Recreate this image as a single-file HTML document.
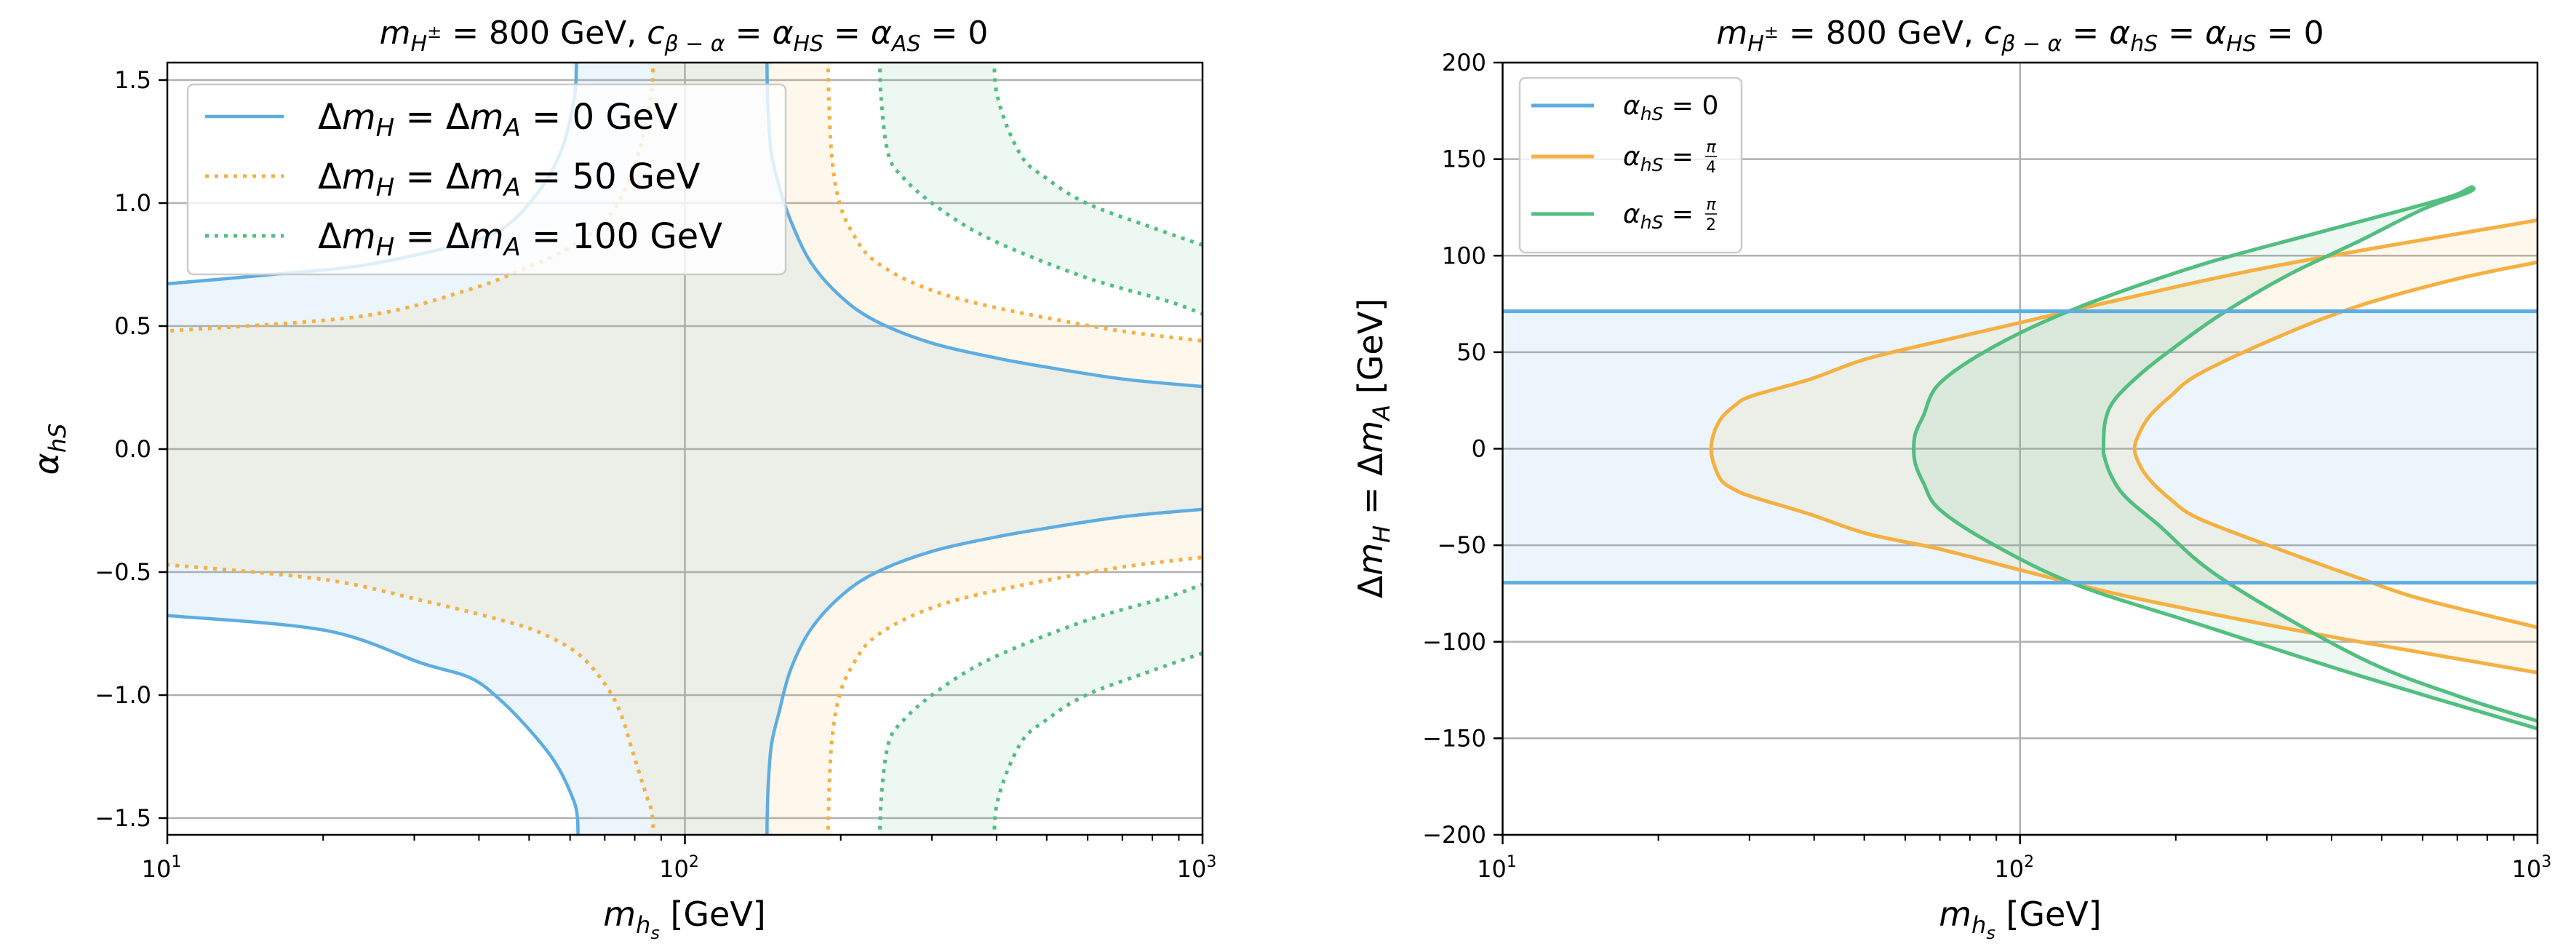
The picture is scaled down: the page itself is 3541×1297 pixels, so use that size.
<!DOCTYPE html>
<html><head><meta charset="utf-8">
<style>
html,body{margin:0;padding:0;background:#fff;}
svg{display:block;font-family:"DejaVu Sans","Liberation Sans",sans-serif;}
</style></head>
<body>
<svg id="s" width="3541" height="1297" viewBox="0 0 3541 1297" xmlns="http://www.w3.org/2000/svg">
<defs>
<clipPath id="cl"><rect x="230" y="86" width="1423" height="1061"/></clipPath>
<clipPath id="cr"><rect x="2065.5" y="86" width="1422.5" height="1061"/></clipPath>
</defs>
<rect width="3541" height="1297" fill="#fff"/>
<g id="L"></g>
<g id="R"></g>
<text x="940" y="60" font-size="44" text-anchor="middle"><tspan font-style="italic">m</tspan><tspan font-style="italic" font-size="30" dy="10">H</tspan><tspan font-size="24" dy="-18">±</tspan><tspan dy="8"> = 800 GeV,  </tspan><tspan font-style="italic">c</tspan><tspan font-style="italic" font-size="30" dy="10">β − α</tspan><tspan dy="-10"> = </tspan><tspan font-style="italic">α</tspan><tspan font-style="italic" font-size="30" dy="10">HS</tspan><tspan dy="-10"> = </tspan><tspan font-style="italic">α</tspan><tspan font-style="italic" font-size="30" dy="10">AS</tspan><tspan dy="-10"> = 0</tspan></text>
<text x="2777" y="60" font-size="44" text-anchor="middle"><tspan font-style="italic">m</tspan><tspan font-style="italic" font-size="30" dy="10">H</tspan><tspan font-size="24" dy="-18">±</tspan><tspan dy="8"> = 800 GeV, </tspan><tspan font-style="italic">c</tspan><tspan font-style="italic" font-size="30" dy="10">β − α</tspan><tspan dy="-10"> = </tspan><tspan font-style="italic">α</tspan><tspan font-style="italic" font-size="30" dy="10">hS</tspan><tspan dy="-10"> = </tspan><tspan font-style="italic">α</tspan><tspan font-style="italic" font-size="30" dy="10">HS</tspan><tspan dy="-10"> = 0</tspan></text>
<text x="941" y="1272" font-size="46" text-anchor="middle"><tspan font-style="italic">m</tspan><tspan font-style="italic" font-size="32" dy="10">h</tspan><tspan font-style="italic" font-size="24" dy="8">s</tspan><tspan dy="-18"> [GeV]</tspan></text>
<text x="2777" y="1272" font-size="46" text-anchor="middle"><tspan font-style="italic">m</tspan><tspan font-style="italic" font-size="32" dy="10">h</tspan><tspan font-style="italic" font-size="24" dy="8">s</tspan><tspan dy="-18"> [GeV]</tspan></text>
<text transform="translate(80,617) rotate(-90)" font-size="46" text-anchor="middle"><tspan font-style="italic">α</tspan><tspan font-style="italic" font-size="32" dy="10">hS</tspan></text>
<text transform="translate(1900,616) rotate(-90)" font-size="46" text-anchor="middle"><tspan>Δ</tspan><tspan font-style="italic">m</tspan><tspan font-style="italic" font-size="32" dy="10">H</tspan><tspan dy="-10"> = Δ</tspan><tspan font-style="italic">m</tspan><tspan font-style="italic" font-size="32" dy="10">A</tspan><tspan dy="-10"> [GeV]</tspan></text>
</svg>
<script>
const NS="http://www.w3.org/2000/svg";
function el(p,t,a,txt){const e=document.createElementNS(NS,t);for(const k in a)e.setAttribute(k,a[k]);if(txt!==undefined)e.textContent=txt;p.appendChild(e);return e;}
const BLUE="#5dade2",ORG="#f5b041",GRN="#52be80";
function mk(x0,dec,y0,sy){return {X:m=>x0+dec*(Math.log10(m)-1),Y:a=>y0-sy*a};}
function pth(T,pts){
  const P=pts.map(p=>[T.X(p[0]),T.Y(p[1])]);
  let d="M"+P[0][0].toFixed(1)+","+P[0][1].toFixed(1);
  for(let i=0;i<P.length-1;i++){
    const p0=P[Math.max(0,i-1)],p1=P[i],p2=P[i+1],p3=P[Math.min(P.length-1,i+2)];
    const c1=[p1[0]+(p2[0]-p0[0])/6,p1[1]+(p2[1]-p0[1])/6];
    const c2=[p2[0]-(p3[0]-p1[0])/6,p2[1]-(p3[1]-p1[1])/6];
    d+="C"+c1[0].toFixed(1)+","+c1[1].toFixed(1)+" "+c2[0].toFixed(1)+","+c2[1].toFixed(1)+" "+p2[0].toFixed(1)+","+p2[1].toFixed(1);
  }
  return d;
}
function rev(a){return a.slice().reverse();}
function neg(a){return a.map(p=>[p[0],-p[1]]);}

const gL=document.getElementById("L");
const TL=mk(230,711.5,617,338);
const lg=el(gL,"g",{});
for(const a of [-1.5,-1,-0.5,0,0.5,1,1.5]) el(lg,"line",{x1:230,x2:1653,y1:TL.Y(a),y2:TL.Y(a),stroke:"#b0b0b0","stroke-width":2.5});
el(lg,"line",{x1:TL.X(100),x2:TL.X(100),y1:86,y2:1147,stroke:"#b0b0b0","stroke-width":2.5});
const cg=el(gL,"g",{"clip-path":"url(#cl)"});
const BUL=[[9.5,0.67],[10,0.672],[16,0.71],[23.7,0.746],[35,0.82],[42,0.87],[46.6,0.93],[51,1.02],[55,1.12],[58.5,1.25],[60.8,1.4],[61.6,1.5],[61.8,1.7]];
const BLL=[[9.5,-0.675],[10,-0.677],[20.2,-0.737],[31,-0.87],[38.5,-0.93],[44,-1.02],[50.5,-1.15],[56,-1.27],[60.2,-1.4],[62,-1.5],[62.1,-1.7]];
const BUR=[[144,1.7],[144.2,1.5],[145,1.35],[147,1.2],[152,1.07],[160,0.93],[175,0.76],[200,0.62],[234,0.52],[301,0.43],[400,0.37],[494,0.335],[700,0.285],[1000,0.254],[1050,0.25]];
const BLR=BUR.map(p=>[p[0],-p[1]*(p[1]<1?0.965:1)]);
const OUL=[[9.5,0.478],[10,0.48],[23.7,0.54],[38.5,0.65],[50.5,0.746],[60,0.82],[69.5,0.92],[76,1.04],[81.6,1.21],[85,1.38],[86.6,1.5],[86.8,1.7]];
const OLL=[[9.5,-0.468],[10,-0.47],[20,-0.53],[31,-0.615],[45,-0.7],[53,-0.75],[62,-0.83],[69.5,-0.945],[75,-1.07],[79.5,-1.24],[84,-1.4],[86.6,-1.5],[86.8,-1.7]];
const OUR=[[189,1.7],[189.3,1.5],[192,1.2],[199,1.0],[212,0.87],[231,0.77],[280,0.67],[371,0.59],[650,0.49],[1000,0.44],[1050,0.435]];
const OLR=neg(OUR);
const GIU=[[238,1.7],[239,1.45],[247,1.2],[265,1.1],[300,1.0],[360,0.89],[444,0.8],[610,0.69],[861,0.6],[1000,0.55],[1050,0.545]];
const GOU=[[398,1.7],[400,1.45],[444,1.2],[500,1.1],[596,1.0],[801,0.9],[1000,0.83],[1050,0.82]];
const GIL=neg(GIU), GOL=neg(GOU);
function poly(g,T,pts,fill,op){el(g,"path",{d:pth(T,pts)+"Z",fill:fill,"fill-opacity":op,stroke:"none"});}
poly(cg,TL,[...BUL,...BUR,...rev(BLR),...rev(BLL)],BLUE,0.12);
poly(cg,TL,[...OUL,...OUR,...rev(OLR),...rev(OLL)],ORG,0.1);
poly(cg,TL,[...GIU,...rev(GOU)],GRN,0.11);
poly(cg,TL,[...GIL,...rev(GOL)],GRN,0.11);
function ln(g,T,pts,c,dot,w){const a={d:pth(T,pts),fill:"none",stroke:c,"stroke-width":w||(dot?5:4.5),"stroke-linejoin":"round"};if(dot)a["stroke-dasharray"]="5 8";el(g,"path",a);}
for(const c of [BUL,BLL,BUR,BLR]) ln(cg,TL,c,BLUE,false);
for(const c of [OUL,OLL,OUR,OLR]) ln(cg,TL,c,ORG,true);
for(const c of [GIU,GOU,GIL,GOL]) ln(cg,TL,c,GRN,true);
el(gL,"rect",{x:230,y:86,width:1423,height:1061,fill:"none",stroke:"#000","stroke-width":2.5});
function xticks(g,T){
  for(let d=1;d<=3;d++){const m=Math.pow(10,d);const x=T.X(m);
    el(g,"line",{x1:x,x2:x,y1:1147,y2:1160,stroke:"#000","stroke-width":2.5});
    const t=el(g,"text",{x:x-8,y:1205,"font-size":32,"text-anchor":"middle"});
    el(t,"tspan",{},"10");el(t,"tspan",{"font-size":22,dy:-14},String(d));
    if(d<3)for(let k=2;k<=9;k++){const xm=T.X(k*m);el(g,"line",{x1:xm,x2:xm,y1:1147,y2:1155,stroke:"#000","stroke-width":2});}
  }
}
xticks(gL,TL);
for(const a of [-1.5,-1,-0.5,0,0.5,1,1.5]){const y=TL.Y(a);
  el(gL,"line",{x1:218,x2:230,y1:y,y2:y,stroke:"#000","stroke-width":2.5});
  el(gL,"text",{x:208,y:y+11,"font-size":32,"text-anchor":"end"},(a<0?"−":"")+Math.abs(a).toFixed(1));}
el(gL,"rect",{x:258,y:116,width:822,height:261,rx:8,fill:"#fff","fill-opacity":0.8,stroke:"#cccccc","stroke-width":2.5});
const LL=[[BLUE,false,"0"],[ORG,true,"50"],[GRN,true,"100"]];
LL.forEach((e,i)=>{const y=160+i*82;
  const a={x1:282,x2:390,y1:y,y2:y,stroke:e[0],"stroke-width":e[1]?5:4.5};if(e[1])a["stroke-dasharray"]="5 8";el(gL,"line",a);
  const t=el(gL,"text",{x:437,y:y+17,"font-size":48});
  el(t,"tspan",{},"Δ");el(t,"tspan",{"font-style":"italic"},"m");el(t,"tspan",{"font-style":"italic","font-size":34,dy:10},"H");
  el(t,"tspan",{dy:-10}," = Δ");el(t,"tspan",{"font-style":"italic"},"m");el(t,"tspan",{"font-style":"italic","font-size":34,dy:10},"A");
  el(t,"tspan",{dy:-10}," = "+e[2]+" GeV");
});

const gR=document.getElementById("R");
const TR=mk(2065.5,711.25,616.5,2.6525);
for(let v=-200;v<=200;v+=50) el(gR,"line",{x1:2065.5,x2:3488,y1:TR.Y(v),y2:TR.Y(v),stroke:"#b0b0b0","stroke-width":2.5});
el(gR,"line",{x1:TR.X(100),x2:TR.X(100),y1:86,y2:1147,stroke:"#b0b0b0","stroke-width":2.5});
const cr=el(gR,"g",{"clip-path":"url(#cr)"});
el(cr,"rect",{x:2065,y:TR.Y(71.2),width:1424,height:TR.Y(-69.4)-TR.Y(71.2),fill:BLUE,"fill-opacity":0.12});
const OO=[[1100,121],[1000,118.4],[316,95],[154,76.9],[100,65.3],[72.4,56.6],[50.6,46.6],[39.3,36],[30.2,27.2],[28,22],[26.5,16],[25.6,8],[25.3,0],[25.6,-8],[26.5,-16.5],[28,-21],[30.2,-24.7],[39.3,-34],[50.6,-44],[70,-52],[100,-62.8],[154,-75.3],[250,-87],[426,-98.75],[1000,-116],[1100,-119]];
const OI=[[1100,-95],[1000,-92.5],[600,-78],[452,-67],[316,-52],[222,-36.25],[195,-26],[178,-16],[170,-8],[166.5,0],[170,8],[178,16.9],[195,27],[222,38.75],[316,58],[452,74],[700,88],[1000,96.6],[1100,99]];
const GO=[[738,135],[650,129],[378,112],[222,95],[129,73],[89.7,53.4],[70,34],[65,16.9],[62.8,8],[62.3,0],[62.8,-8],[65,-17.5],[70,-31.6],[89.7,-50.3],[129,-70.6],[222,-91],[452,-117.5],[1000,-145],[1100,-148]];
const GI=[[1100,-144],[1000,-141],[700,-128],[452,-108],[246,-67.5],[185,-39.4],[160,-25],[150,-14],[145.5,-4],[145,0],[146,13.75],[152,25],[171,38.75],[200,53],[246,70],[330,90],[452,107.5],[600,124],[738,133],[748,135.5],[738,135]];
poly(cr,TR,[...OO,...OI],ORG,0.1);
poly(cr,TR,[...GO,...GI],GRN,0.11);
ln(cr,TR,OO,ORG,false,5);ln(cr,TR,OI,ORG,false,5);
ln(cr,TR,GO,GRN,false,5);ln(cr,TR,GI,GRN,false,5);
el(cr,"line",{x1:2065,x2:3488,y1:TR.Y(71.2),y2:TR.Y(71.2),stroke:BLUE,"stroke-width":5});
el(cr,"line",{x1:2065,x2:3488,y1:TR.Y(-69.4),y2:TR.Y(-69.4),stroke:BLUE,"stroke-width":5});
el(gR,"rect",{x:2065.5,y:86,width:1422.5,height:1061,fill:"none",stroke:"#000","stroke-width":2.5});
xticks(gR,TR);
for(let v=-200;v<=200;v+=50){const y=TR.Y(v);
  el(gR,"line",{x1:2053,x2:2065,y1:y,y2:y,stroke:"#000","stroke-width":2.5});
  el(gR,"text",{x:2043,y:y+11,"font-size":32,"text-anchor":"end"},(v<0?"−":"")+Math.abs(v));}
el(gR,"rect",{x:2089,y:107,width:305,height:240,rx:8,fill:"#fff","fill-opacity":0.8,stroke:"#cccccc","stroke-width":2.5});
const RL=[[BLUE,"0"],[ORG,"π/4"],[GRN,"π/2"]];
RL.forEach((e,i)=>{const y=[145,215,294][i];
  el(gR,"line",{x1:2105,x2:2191,y1:y,y2:y,stroke:e[0],"stroke-width":5});
  const t=el(gR,"text",{x:2231,y:y+12,"font-size":36});
  el(t,"tspan",{"font-style":"italic"},"α");el(t,"tspan",{"font-style":"italic","font-size":25,dy:8},"hS");
  el(t,"tspan",{dy:-8}," = ");
  if(i==0){el(t,"tspan",{},"0");}
  else{
    el(gR,"text",{x:2352,y:y-6,"font-size":22,"font-style":"italic","text-anchor":"middle"},"π");
    el(gR,"line",{x1:2344,x2:2360,y1:y,y2:y,stroke:"#000","stroke-width":1.5});
    el(gR,"text",{x:2352,y:y+22,"font-size":22,"text-anchor":"middle"},i==1?"4":"2");
  }
});
</script>
</body></html>
